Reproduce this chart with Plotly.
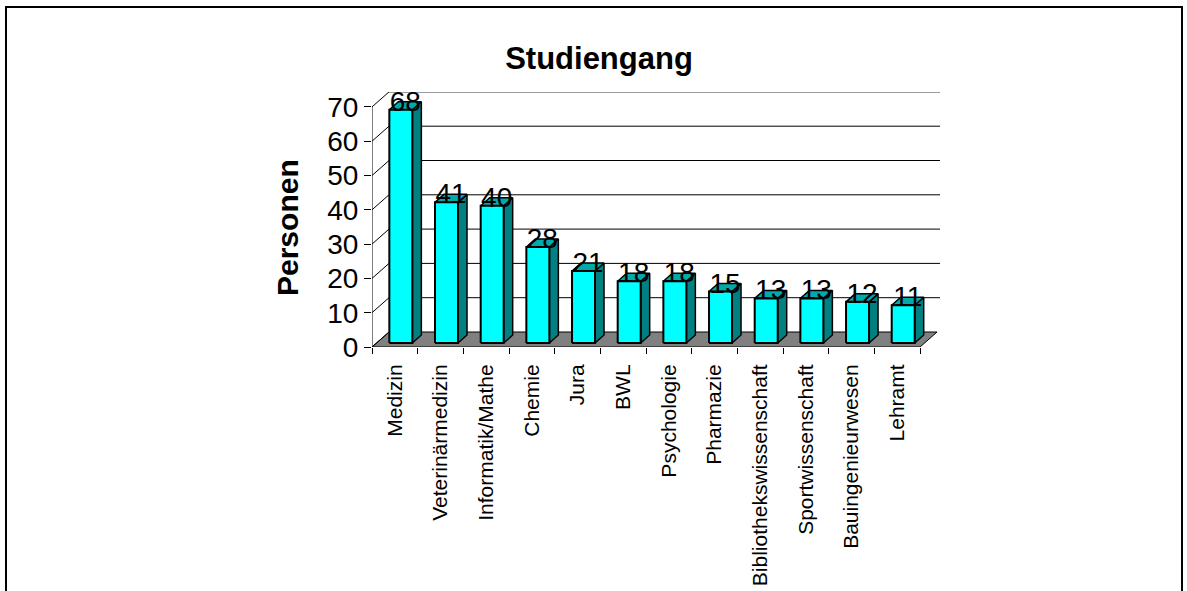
import plotly.graph_objects as go

# ---- data ----
categories = ["Medizin", "Veterinärmedizin", "Informatik/Mathe", "Chemie", "Jura", "BWL",
              "Psychologie", "Pharmazie", "Bibliothekswissenschaft", "Sportwissenschaft",
              "Bauingenieurwesen", "Lehramt"]
values = [68, 41, 40, 28, 21, 18, 18, 15, 13, 13, 12, 11]
y_ticks = [0, 10, 20, 30, 40, 50, 60, 70]
title_text = "Studiengang"
y_title = "Personen"

# ---- geometry (pixels) ----
W, H = 1187, 591
PX0, PY0 = 372, 347          # front-left-bottom corner of plot
CW = 45.67                   # category width in px
UH = 3.43                    # px per value unit
PX_RIGHT, PY_TOP = 940, 92
FLOOR_D = (17, 15)           # floor depth offset (px right, px up)
BAR_F = (6, 4)               # bar front face offset
BAR_B = (15, 12)             # bar back face offset
BAR_W = 23                   # bar front width px

n = len(categories)
x_lo = -0.5
x_hi = -0.5 + (PX_RIGHT - PX0) / CW
y_hi = (PY0 - PY_TOP) / UH


def dx(px):
    return px / CW


def dy(px):
    return px / UH


FONT = "Arial, Liberation Sans, sans-serif"
CYAN = "#00FFFF"
SIDE = "#008080"
TOP = "#00AAAA"

fig = go.Figure()

# floor
fx = [x_lo, n - 0.5, n - 0.5 + dx(FLOOR_D[0]), x_lo + dx(FLOOR_D[0]), x_lo]
fy = [0, 0, dy(FLOOR_D[1]), dy(FLOOR_D[1]), 0]
fig.add_trace(go.Scatter(x=fx, y=fy, mode="lines", fill="toself", fillcolor="#808080",
                         line=dict(color="black", width=1), hoverinfo="skip", showlegend=False))

# back-wall gridlines and side diagonals
gx, gy = [], []
for v in y_ticks:
    if v > 0:
        gx += [x_lo + dx(FLOOR_D[0]), x_hi, None]
        gy += [v + dy(FLOOR_D[1]), v + dy(FLOOR_D[1]), None]
    gx += [x_lo, x_lo + dx(FLOOR_D[0]), None]
    gy += [v, v + dy(FLOOR_D[1]), None]
# front vertical axis line
gx += [x_lo, x_lo, None]
gy += [0, y_ticks[-1], None]
fig.add_trace(go.Scatter(x=gx, y=gy, mode="lines", line=dict(color="black", width=1),
                         hoverinfo="skip", showlegend=False))

# bars: side faces, top faces, front faces
sx, sy, tx, ty, frx, fry = [], [], [], [], [], []
b = dy(BAR_F[1])
ddx = dx(BAR_B[0] - BAR_F[0])
ddy = dy(BAR_B[1] - BAR_F[1])
for i, v in enumerate(values):
    xl = i + dx(BAR_F[0]) - dx(BAR_W / 2)
    xr = i + dx(BAR_F[0]) + dx(BAR_W / 2)
    sx += [xr, xr + ddx, xr + ddx, xr, xr, None]
    sy += [b, b + ddy, b + v + ddy, b + v, b, None]
    tx += [xl, xr, xr + ddx, xl + ddx, xl, None]
    ty += [b + v, b + v, b + v + ddy, b + v + ddy, b + v, None]
    frx += [xl, xr, xr, xl, xl, None]
    fry += [b, b, b + v, b + v, b, None]

fig.add_trace(go.Scatter(x=sx, y=sy, mode="lines", fill="toself", fillcolor=SIDE,
                         line=dict(color="black", width=1.5), hoverinfo="skip", showlegend=False))
fig.add_trace(go.Scatter(x=tx, y=ty, mode="lines", fill="toself", fillcolor=TOP,
                         line=dict(color="black", width=1.5), hoverinfo="skip", showlegend=False))
fig.add_trace(go.Scatter(x=frx, y=fry, mode="lines", fill="toself", fillcolor=CYAN,
                         line=dict(color="black", width=2), hoverinfo="skip", showlegend=False))

# data labels
fig.add_trace(go.Scatter(x=[i + dx(10.5) for i in range(n)],
                         y=[v + dy(BAR_F[1] + 6) for v in values],
                         mode="text", text=[str(v) for v in values],
                         textposition="middle center",
                         textfont=dict(family=FONT, size=28, color="black"),
                         hoverinfo="skip", showlegend=False, cliponaxis=False))

fig.update_layout(
    template="none",
    width=W, height=H,
    margin=dict(l=0, r=0, t=0, b=0, pad=0, autoexpand=False),
    paper_bgcolor="white", plot_bgcolor="rgba(0,0,0,0)",
    showlegend=False,
    title=dict(text="<b>" + title_text + "</b>", x=599 / W, y=1 - 58 / H,
               xanchor="center", yanchor="middle",
               font=dict(family=FONT, size=31, color="black")),
    xaxis=dict(domain=[PX0 / W, PX_RIGHT / W], range=[x_lo, x_hi], automargin=False,
               tickmode="array", tickvals=list(range(n)), ticktext=categories,
               tickangle=-90, ticks="outside", ticklen=8, tickcolor="rgba(0,0,0,0)",
               tickfont=dict(family=FONT, size=21, color="black"),
               showgrid=False, zeroline=False, showline=False,
               minor=dict(tickmode="linear", tick0=-0.5, dtick=1, ticks="outside",
                          ticklen=6, tickcolor="black", tickwidth=1, showgrid=False)),
    yaxis=dict(domain=[1 - PY0 / H, 1 - PY_TOP / H], range=[0, y_hi], automargin=False,
               tickmode="array", tickvals=y_ticks, ticktext=[str(t) for t in y_ticks],
               ticks="outside", ticklen=7, tickcolor="black", tickwidth=1,
               tickfont=dict(family=FONT, size=28, color="black"),
               showgrid=False, zeroline=False, showline=False),
    annotations=[dict(text="<b>" + y_title + "</b>", xref="paper", yref="paper",
                      x=287 / W, y=1 - 228 / H, xanchor="center", yanchor="middle",
                      textangle=-90, showarrow=False,
                      font=dict(family=FONT, size=30, color="black"))],
    shapes=[dict(type="rect", xref="paper", yref="paper",
                 x0=6 / W, y0=-0.05, x1=1182 / W, y1=1 - 7 / H,
                 line=dict(color="black", width=2), fillcolor="rgba(0,0,0,0)", layer="below")],
)

fig.write_html("out.html", config={"displayModeBar": False},
               post_script="document.body.style.margin='0';document.body.style.overflow='hidden';")
